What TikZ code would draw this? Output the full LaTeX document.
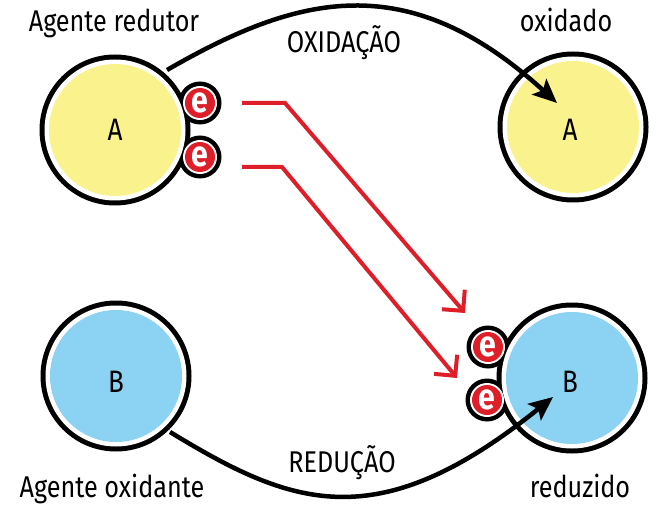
\documentclass[tikz,border=0pt]{standalone}
\usepackage{fontspec}
\setmainfont{Fira Sans}[FakeStretch=0.84]
\usetikzlibrary{arrows.meta}
\definecolor{ayellow}{RGB}{250,242,140}
\definecolor{bblue}{RGB}{140,210,243}
\definecolor{ered}{RGB}{222,30,40}
\tikzset{
  lbl/.style={font=\fontsize{30}{32}\selectfont, inner sep=0pt, anchor=base},
  letter/.style={font=\fontsize{31}{32}\selectfont, inner sep=0pt, anchor=base},
  eglyph/.style={text=white, font=\bfseries\fontsize{36}{36}\selectfont, inner sep=0pt},
  blackarrow/.style={line width=4.5pt, -{Stealth[length=24pt,width=21pt,inset=5pt]}},
  redarrow/.style={ered, line width=4pt, -{Straight Barb[length=15pt,width=30pt]}},
  ring/.style={fill=black},
  gap/.style={fill=white},
}
\begin{document}
\begin{tikzpicture}[x=1pt,y=-1pt]
\useasboundingbox (0,0) rectangle (659,508);
% centres
\coordinate (cA1) at (115,130);
\coordinate (cA2) at (573,127);
\coordinate (cB1) at (116,376);
\coordinate (cB2) at (572,378);
\coordinate (e1) at (200,103);
\coordinate (e2) at (200,157);
\coordinate (e3) at (488,347);
\coordinate (e4) at (487,400);
% black outlines
\foreach \c in {cA1,cA2,cB1,cB2} \fill[ring] (\c) circle[radius=75.5pt];
\foreach \c in {e1,e2,e3,e4} \fill[ring] (\c) circle[radius=21.5pt];
% white gaps
\foreach \c in {cA1,cA2,cB1,cB2} \fill[gap] (\c) circle[radius=70.5pt];
\foreach \c in {e1,e2,e3,e4} \fill[gap] (\c) circle[radius=17pt];
% fills
\fill[ayellow] (cA1) circle[radius=66pt];
\fill[ayellow] (cA2) circle[radius=66pt];
\fill[bblue] (cB1) circle[radius=66pt];
\fill[bblue] (cB2) circle[radius=66pt];
\foreach \c in {e1,e2,e3,e4} \fill[ered] (\c) circle[radius=15pt];
% electrons
\node[eglyph] (n1) at (e1) {e};
\node[eglyph] (n2) at (e2) {e};
\node[eglyph] (n3) at (e3) {e};
\node[eglyph] (n4) at (e4) {e};
% letters
\node[letter] (la1) at (115,141) {A};
\node[letter] (la2) at (570,141) {A};
\node[letter] (lb1) at (116,392) {B};
\node[letter] (lb2) at (570,392) {B};
% labels
\node[lbl] (t1) at (114,32) {Agente redutor};
\node[lbl] (t2) at (566,32) {oxidado};
\node[lbl] (t3) at (344,53) {OXIDAÇÃO};
\node[lbl] (t4) at (342,472) {REDUÇÃO};
\node[lbl] (t5) at (112,497) {Agente oxidante};
\node[lbl] (t6) at (580,497) {reduzido};
% black connectors
\coordinate (os) at (167,70);
\coordinate (ot) at (557,103);
\draw[blackarrow] (os) .. controls (297,-5) and (407,-34) .. (ot);
\coordinate (rs) at (170,432);
\coordinate (rt) at (553,397);
\draw[blackarrow] (rs) .. controls (290,505) and (376,540) .. (rt);
% red connectors
\coordinate (r1s) at (242,103);
\coordinate (r1b) at (285,103);
\coordinate (r1t) at (465,313);
\coordinate (r2s) at (242,167);
\coordinate (r2b) at (282,167);
\coordinate (r2t) at (457,378);
\draw[redarrow] (r1s) -- (r1b) -- (r1t);
\draw[redarrow] (r2s) -- (r2b) -- (r2t);
\end{tikzpicture}
\end{document}
